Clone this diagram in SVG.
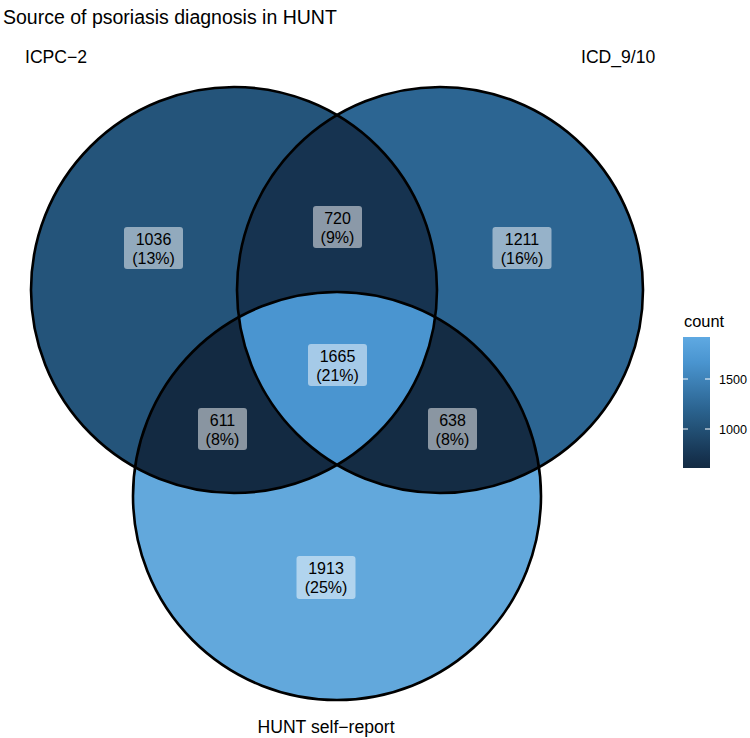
<svg xmlns="http://www.w3.org/2000/svg" width="750" height="738" viewBox="0 0 750 738">
<style>
text{font-family:"Liberation Sans",Arial,sans-serif;fill:#000}
.set{font-size:17.6px}
.cnt{font-size:16px;text-anchor:middle}
.box{fill:#ffffff;fill-opacity:0.5}
.edge{fill:none;stroke:#000;stroke-width:2.6}
.tick{stroke:#ffffff;stroke-width:1}
</style>
<defs>
<clipPath id="clipA"><circle cx="234" cy="290" r="203"/></clipPath>
<clipPath id="clipB"><circle cx="440" cy="290" r="203"/></clipPath>
<linearGradient id="grad" x1="0" y1="0" x2="0" y2="1">
<stop offset="0" stop-color="#5FA9E2"/>
<stop offset="0.19" stop-color="#4A95D0"/>
<stop offset="0.54" stop-color="#2C6592"/>
<stop offset="0.674" stop-color="#24547A"/>
<stop offset="0.916" stop-color="#163350"/>
<stop offset="1" stop-color="#132B43"/>
</linearGradient>
</defs>
<rect width="750" height="738" fill="#ffffff"/>
<text x="3" y="24" style="font-size:19.5px">Source of psoriasis diagnosis in HUNT</text>

<g id="regions">
<circle cx="234" cy="290" r="203" fill="#24547A"/>
<circle cx="440" cy="290" r="203" fill="#2C6592"/>
<circle cx="337" cy="496" r="204" fill="#62A8DC"/>
<circle cx="440" cy="290" r="203" fill="#163350" clip-path="url(#clipA)"/>
<circle cx="337" cy="496" r="204" fill="#132A42" clip-path="url(#clipA)"/>
<circle cx="337" cy="496" r="204" fill="#142C44" clip-path="url(#clipB)"/>
<g clip-path="url(#clipB)"><circle cx="337" cy="496" r="204" fill="#4A95D0" clip-path="url(#clipA)"/></g>
</g>

<g id="set-ICPC2">
<circle class="edge" cx="234" cy="290" r="203"/>
<text class="set" x="25" y="63">ICPC−2</text>
</g>
<g id="set-ICD910">
<circle class="edge" cx="440" cy="290" r="203"/>
<text class="set" x="581" y="63">ICD_9/10</text>
</g>
<g id="set-HUNT">
<circle class="edge" cx="337" cy="496" r="204"/>
<text class="set" x="326" y="733" text-anchor="middle">HUNT self−report</text>
</g>

<g id="label-1036">
<rect class="box" x="124" y="227" width="59" height="42" rx="3"/>
<text class="cnt" x="153.5" y="245">1036</text>
<text class="cnt" x="153.5" y="263.5">(13%)</text>
</g>
<g id="label-720">
<rect class="box" x="313" y="206" width="49" height="42" rx="3"/>
<text class="cnt" x="337.5" y="224">720</text>
<text class="cnt" x="337.5" y="242.5">(9%)</text>
</g>
<g id="label-1211">
<rect class="box" x="492.5" y="227" width="59" height="42" rx="3"/>
<text class="cnt" x="522" y="245">1211</text>
<text class="cnt" x="522" y="263.5">(16%)</text>
</g>
<g id="label-1665">
<rect class="box" x="308" y="344" width="59" height="42" rx="3"/>
<text class="cnt" x="337.5" y="362">1665</text>
<text class="cnt" x="337.5" y="380.5">(21%)</text>
</g>
<g id="label-611">
<rect class="box" x="198" y="408" width="49" height="42" rx="3"/>
<text class="cnt" x="222.5" y="426">611</text>
<text class="cnt" x="222.5" y="444.5">(8%)</text>
</g>
<g id="label-638">
<rect class="box" x="428" y="408" width="49" height="42" rx="3"/>
<text class="cnt" x="452.5" y="426">638</text>
<text class="cnt" x="452.5" y="444.5">(8%)</text>
</g>
<g id="label-1913">
<rect class="box" x="296.5" y="556" width="59" height="43" rx="3"/>
<text class="cnt" x="326" y="574">1913</text>
<text class="cnt" x="326" y="592.5">(25%)</text>
</g>

<g id="legend">
<text x="684" y="327" style="font-size:16.4px">count</text>
<rect x="683" y="337" width="27" height="131" fill="url(#grad)"/>
<line class="tick" x1="683" y1="379" x2="688" y2="379"/>
<line class="tick" x1="705" y1="379" x2="710" y2="379"/>
<line class="tick" x1="683" y1="429" x2="688" y2="429"/>
<line class="tick" x1="705" y1="429" x2="710" y2="429"/>
<text x="719" y="384" style="font-size:12.6px">1500</text>
<text x="719" y="434" style="font-size:12.6px">1000</text>
</g>
</svg>
